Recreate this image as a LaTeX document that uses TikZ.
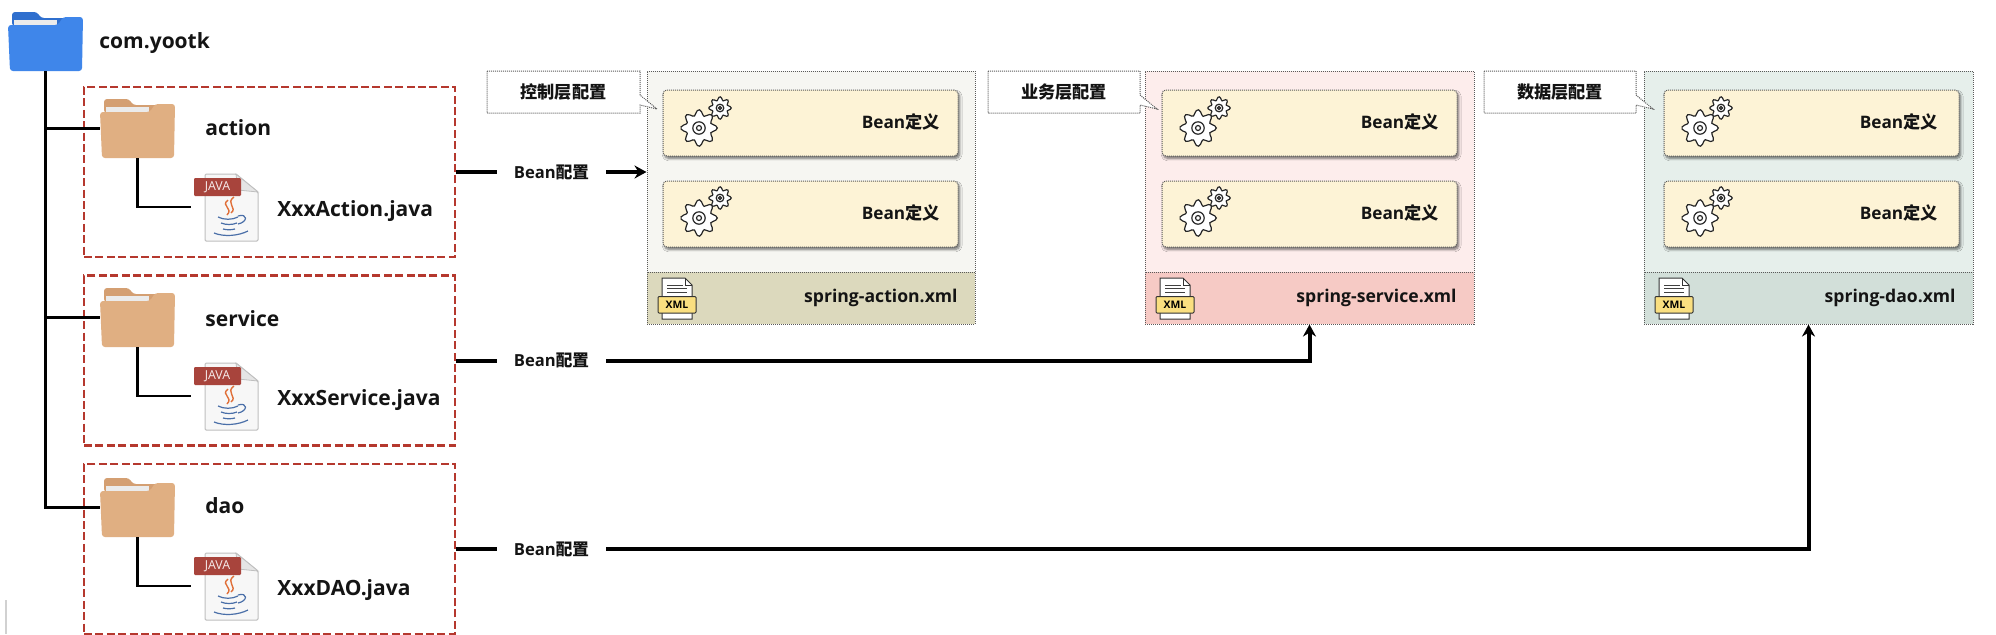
\documentclass[tikz,border=0pt]{standalone}
\usepackage{fontspec}
\setmainfont{Open Sans}
\newfontfamily\cjk{Noto Sans CJK SC}
\usetikzlibrary{arrows.meta,shadows.blur,calc}
\definecolor{dashred}{HTML}{B5382E}
\definecolor{folderblue}{HTML}{3F86EA}
\definecolor{folderblued}{HTML}{2F6FCE}
\definecolor{foldertan}{HTML}{E0AF82}
\definecolor{foldertand}{HTML}{D49F72}
\definecolor{beanfill}{HTML}{FDF3D6}
\definecolor{dotgrey}{HTML}{5A5A5A}
\definecolor{javared}{HTML}{A8443C}
\definecolor{abody}{HTML}{F6F6F2}
\definecolor{afoot}{HTML}{DCD9BD}
\definecolor{bbody}{HTML}{FDEDEC}
\definecolor{bfoot}{HTML}{F6CAC5}
\definecolor{cbody}{HTML}{E6EFEB}
\definecolor{cfoot}{HTML}{D2DFD9}
\definecolor{xmlyellow}{HTML}{FADF80}
\definecolor{javablue}{HTML}{4A6FA8}
\definecolor{javaorange}{HTML}{E0703A}
\tikzset{
  x=.5pt,y=-.5pt,
  lbl/.style={inner sep=0pt,font=\bfseries\fontsize{#1}{#1}\selectfont,text=black!92},
  pkgbox/.style={draw=dashred,line width=1.1pt,dash pattern=on 4pt off 1.7pt,minimum width=185.5pt,minimum height=85pt,inner sep=0pt},
  tree/.style={line width=1.2pt,draw=black},
  heavy/.style={line width=2pt,draw=black},
  heavyarrow/.style={heavy,-{Stealth[length=6pt,width=6.5pt]}},
  fineline/.style={draw=dotgrey,line width=.5pt,dash pattern=on .5pt off .5pt},
  modbox/.style={fineline,inner sep=0pt},
  beanbox/.style={fineline,fill=beanfill,rounded corners=2pt,minimum width=147.5pt,minimum height=33pt,inner sep=0pt,blur shadow={shadow xshift=.8pt,shadow yshift=-1.2pt,shadow blur radius=1.2pt,shadow blur steps=6,shadow opacity=55}},
  callout/.style={fineline,fill=white},
}
\newcommand{\folderIcon}[5]{
  \node[inner sep=0pt,minimum width=37.5pt,minimum height=29.5pt] (#1) at (#2+37.5,#3+29.5) {};
  \begin{scope}[shift={(#2,#3)}]
    \fill[#5,rounded corners=1.5pt] (4,14)--(4,0)--(29,0)--(33,6)--(60,6)--(60,14)--cycle;
    \fill[white!92!black] (6,8) rectangle (49,13);
    \fill[#4,rounded corners=1.5pt] (0,13)--(50,13)--(55,5)--(75,5)--(74,59)--(2,59)--cycle;
  \end{scope}
}
\newcommand{\javaIcon}[3]{
  \node[inner sep=0pt,minimum width=33.5pt,minimum height=34pt] (#1) at (#2+33.5,#3+34) {};
  \begin{scope}[shift={(#2+3,#3)}]
    \filldraw[fill=black!3,draw=black!25,line width=.5pt,rounded corners=.6pt] (11,1)--(42,1)--(64,19)--(64,68)--(11,68)--cycle;
    \filldraw[fill=black!10,draw=black!25,line width=.4pt] (42,1)--(44,17)--(64,19)--cycle;
    \fill[javared,rounded corners=.6pt] (0,5) rectangle (47,23);
    \node[inner sep=0pt,text=white!90!javared,font=\fontsize{6.2}{6.2}\selectfont] (#1t) at (23.5,14) {JAVA};
    \draw[javaorange,line width=.7pt] (34,27) .. controls (26,33) and (40,35) .. (33,42);
    \draw[javaorange,line width=.7pt] (40,24) .. controls (31,30) and (44,35) .. (37,40);
    \draw[javablue,line width=.6pt] (24,44) .. controls (30,47) and (38,47) .. (44,44);
    \draw[javablue,line width=.6pt] (27,50) .. controls (32,52) and (38,52) .. (43,50);
    \draw[javablue,line width=.6pt] (29,56) .. controls (33,57) and (37,57) .. (41,56);
    \draw[javablue,line width=.6pt] (20,60) .. controls (30,64) and (44,63) .. (54,58);
    \draw[javablue,line width=.6pt] (44,43) .. controls (54,40) and (54,49) .. (44,51);
  \end{scope}
}
\newcommand{\gearShape}[5]{
  \begin{scope}[shift={(#1,#2)}]
    \filldraw[fill=white,draw=black!85,line width=#5] plot[smooth cycle,samples=49,domain=0:352.5,variable=\t] ({#3*(1+.18*cos(#4*\t))*cos(\t)},{#3*(1+.18*cos(#4*\t))*sin(\t)});
    \draw[black!85,line width=#5] (0,0) circle ({#3*.4});
    \draw[black!85,line width=#5] (0,0) circle ({#3*.16});
  \end{scope}
}
\newcommand{\gears}[2]{
  \gearShape{#1}{#2}{15.5}{8}{.6pt}
  \gearShape{#1+21}{#2-20}{9.5}{8}{.6pt}
}
\newcommand{\beanBox}[6]{
  \node[beanbox] (#1) at (#2+147.5,#3+33) {};
  \gears{#4}{#5}
  \node[lbl=8.6,anchor=east] (#1t) at (#6,#3+32) {Bean{\cjk 定义}};
}
\newcommand{\xmlIcon}[2]{
  \node[inner sep=0pt,minimum width=19pt,minimum height=21pt] (#1) at (#2,298) {};
  \begin{scope}[shift={(#2,0)}]
    \filldraw[fill=white,draw=black!80,line width=.5pt] (-15,278)--(8,278)--(15,285)--(15,319)--(-15,319)--cycle;
    \draw[black!80,line width=.4pt] (8,278)--(8,285)--(15,285);
    \draw[black!75,line width=.5pt] (-10,285)--(6,285) (-10,288.5)--(10,288.5) (-10,292)--(10,292);
    \filldraw[fill=xmlyellow,draw=black!80,line width=.5pt,rounded corners=.5pt] (-19,296.5) rectangle (19,313);
    \node[inner sep=0pt,font=\bfseries\fontsize{5.2}{5.2}\selectfont] (#1t) at (0,305) {XML};
  \end{scope}
}
% prefix, left, right, body, foot, text right, file, xml x, bean left
\newcommand{\moduleBox}[9]{
  \node[modbox,fill=#4,minimum width=(#3-#2)*.5pt,minimum height=100.5pt] (#1) at ({(#2+#3)/2},171.5) {};
  \node[modbox,fill=#5,minimum width=(#3-#2)*.5pt,minimum height=26pt] (#1foot) at ({(#2+#3)/2},298) {};
  \node[lbl=8.8,anchor=east] (#1file) at (#6,298) {#7};
  \xmlIcon{#1xml}{#8}
  \beanBox{#1b}{#9}{90}{#9+36}{128}{#6-18}
  \beanBox{#1c}{#9}{181}{#9+36}{218}{#6-18}
}
% name, left, right, text
\newcommand{\calloutBox}[4]{
  \draw[callout] (#2,71)--(#3,71)--(#3,95)--(#3+17,109)--(#3,105)--(#3,113)--(#2,113)--cycle;
  \node[lbl=8.6] (#1) at ({(#2+#3)/2},92) {\cjk #4};
}
\begin{document}
\begin{tikzpicture}
\useasboundingbox (0,0) rectangle (1996,634);
\fill[white] (0,0) rectangle (1996,634);
\fill[black!18] (5,600) rectangle (7,634);

\node[pkgbox] (pa) at (269.5,172) {};
\node[pkgbox] (pb) at (269.5,360.5) {};
\node[pkgbox] (pc) at (269.5,549) {};

\folderIcon{root}{8}{12}{folderblue}{folderblued}
\folderIcon{fa}{100}{99}{foldertan}{foldertand}
\folderIcon{fb}{100}{288}{foldertan}{foldertand}
\folderIcon{fc}{100}{478}{foldertan}{foldertand}

\javaIcon{ja}{191}{173}
\javaIcon{jb}{191}{362}
\javaIcon{jc}{191}{552}

\draw[tree] (root.south) |- (fa.west);
\draw[tree] (root.south) |- (fb.west);
\draw[tree] (root.south) |- (fc.west);
\draw[tree] (fa.south) |- (ja.west);
\draw[tree] (fb.south) |- (jb.west);
\draw[tree] (fc.south) |- (jc.west);

\node[lbl=10.5,anchor=west] (troot) at (99,43) {com.yootk};
\node[lbl=10.5,anchor=west] (ta) at (205,128) {action};
\node[lbl=10.5,anchor=west] (tb) at (205,319) {service};
\node[lbl=10.5,anchor=west] (tc) at (205,506) {dao};
\node[lbl=10.5,anchor=west] (tja) at (277,211) {XxxAction.java};
\node[lbl=10.5,anchor=west] (tjb) at (277,400) {XxxService.java};
\node[lbl=10.5,anchor=west] (tjc) at (277,590) {XxxDAO.java};

\moduleBox{ma}{647}{975}{abody}{afoot}{958}{spring-action.xml}{677}{663}
\moduleBox{mb}{1145}{1474}{bbody}{bfoot}{1457}{spring-service.xml}{1175}{1162}
\moduleBox{mc}{1644}{1973}{cbody}{cfoot}{1956}{spring-dao.xml}{1674}{1664}

\calloutBox{ca}{487}{640}{控制层配置}
\calloutBox{cb}{988}{1140}{业务层配置}
\calloutBox{cc}{1484}{1636}{数据层配置}

\node[lbl=8.3,minimum width=54.5pt] (la) at (551.5,172) {Bean{\cjk 配置}};
\node[lbl=8.3,minimum width=54.5pt] (lb) at (551.5,360.5) {Bean{\cjk 配置}};
\node[lbl=8.3,minimum width=54.5pt] (lc) at (551.5,549) {Bean{\cjk 配置}};

\draw[heavy] (pa.east) -- (la.west);
\draw[heavy] (pb.east) -- (lb.west);
\draw[heavy] (pc.east) -- (lc.west);
\draw[heavyarrow] (la.east) -- (la.east -| ma.west);
\draw[heavyarrow] (lb.east) -| (mbfoot.south);
\draw[heavyarrow] (lc.east) -| (mcfoot.south);
\end{tikzpicture}
\end{document}
